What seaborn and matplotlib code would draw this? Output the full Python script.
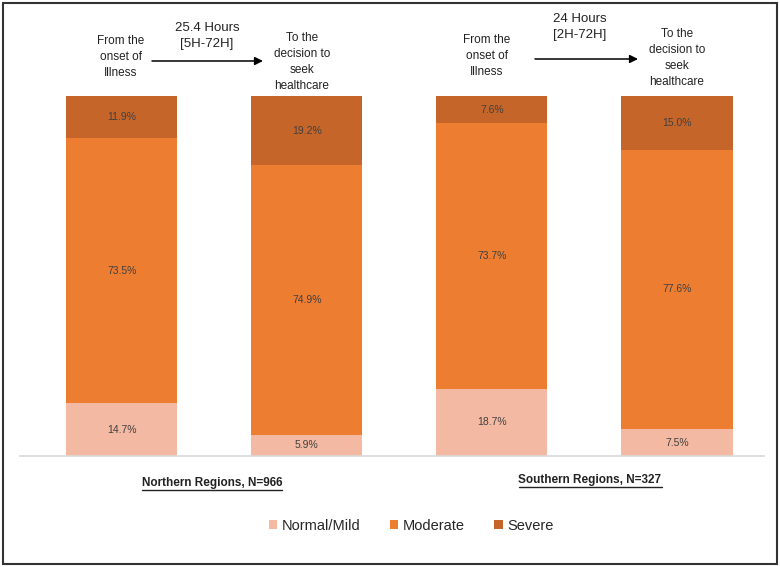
import pandas as pd
import matplotlib.pyplot as plt
import seaborn as sns
from matplotlib.patches import Rectangle, Patch
from matplotlib.lines import Line2D

# Data
bars = ["N_onset", "N_decision", "S_onset", "S_decision"]
mild = [14.7, 5.9, 18.7, 7.5]
moderate = [73.5, 74.9, 73.7, 77.6]
severe = [11.9, 19.2, 7.6, 15.0]
categories = ["Normal/Mild", "Moderate", "Severe"]
colors = ["#F4B9A2", "#ED7D31", "#C5652A"]

df = pd.DataFrame({"bar": bars, "Normal/Mild": mild, "Moderate": moderate, "Severe": severe})
df["top_mild"] = df["Normal/Mild"]
df["top_mod"] = df["top_mild"] + df["Moderate"]
df["top_sev"] = df["top_mod"] + df["Severe"]

sns.set_style("white")
plt.rcParams["font.family"] = ["Liberation Sans", "DejaVu Sans"]

fig = plt.figure(figsize=(7.8, 5.67), dpi=100)
ax = fig.add_axes([20 / 780, 1 - 456 / 567, 744 / 780, 360 / 567])

# stacked bars: draw cumulative heights from the top segment down
for col, c in zip(["top_sev", "top_mod", "top_mild"], colors[::-1]):
    sns.barplot(data=df, x="bar", y=col, order=bars, color=c, width=0.6,
                saturation=1, ax=ax, linewidth=0)

# percentage labels in the middle of each segment
for i in range(len(bars)):
    bottom = 0
    for vals in [mild, moderate, severe]:
        ax.text(i, bottom + vals[i] / 2, f"{vals[i]:.1f}%", ha="center", va="center",
                fontsize=7.5, color="#404040")
        bottom += vals[i]

ax.set_xlim(-0.55, 3.47)
ax.set_ylim(0, 100)
ax.set_xticks([])
ax.set_yticks([])
ax.set_xlabel("")
ax.set_ylabel("")
for s in ["top", "left", "right"]:
    ax.spines[s].set_visible(False)
ax.spines["bottom"].set_color("#D9D9D9")
ax.spines["bottom"].set_linewidth(1.2)

# annotations above bars (figure pixel coords, origin bottom-left)
H = 567
def ftext(x, y, s, size=8.5):
    fig.text(x / 780, 1 - y / H, s, ha="center", va="center", fontsize=size,
             color="#222222", linespacing=1.45)

ftext(121, 57, "From the\nonset of\nIllness")
ftext(302, 62, "To the\ndecision to\nseek\nhealthcare")
ftext(207, 36, "25.4 Hours\n[5H-72H]", 9.5)
ftext(487, 56, "From the\nonset of\nIllness")
ftext(677, 58, "To the\ndecision to\nseek\nhealthcare")
ftext(580, 27, "24 Hours\n[2H-72H]", 9.5)

for x1, x2, y in [(152, 263, 61), (535, 638, 59)]:
    ax.annotate("", xy=(x2, H - y), xytext=(x1, H - y), xycoords="figure pixels",
                textcoords="figure pixels", annotation_clip=False,
                arrowprops=dict(arrowstyle="-|>", color="black", lw=1.1,
                                mutation_scale=12, shrinkA=0, shrinkB=0))

# group labels (bold, underlined)
group_texts = []
for x, y, s in [(212, 483, "Northern Regions, N=966"), (590, 480, "Southern Regions, N=327")]:
    t = fig.text(x / 780, 1 - y / H, s, ha="center", va="center", fontsize=8.5,
                 fontweight="bold", color="#222222")
    group_texts.append(t)

fig.canvas.draw()
renderer = fig.canvas.get_renderer()
for t in group_texts:
    bb = t.get_window_extent(renderer).transformed(fig.transFigure.inverted())
    fig.add_artist(Line2D([bb.x0, bb.x1], [bb.y0 - 0.002, bb.y0 - 0.002],
                          transform=fig.transFigure, color="#222222", lw=1))

# legend
handles = [Patch(facecolor=c, edgecolor="none", label=l) for c, l in zip(colors, categories)]
fig.legend(handles=handles, loc="center", bbox_to_anchor=(411 / 780, 1 - 526 / H),
           ncol=3, frameon=False, fontsize=10.5, handlelength=0.6, handleheight=0.6,
           handletextpad=0.3, columnspacing=2.0)

# outer border
fig.add_artist(Rectangle((3 / 780, 3 / H), 774 / 780, 561 / H, transform=fig.transFigure,
                         fill=False, edgecolor="#333333", lw=1.5))

fig.savefig("out.png", dpi=100)
